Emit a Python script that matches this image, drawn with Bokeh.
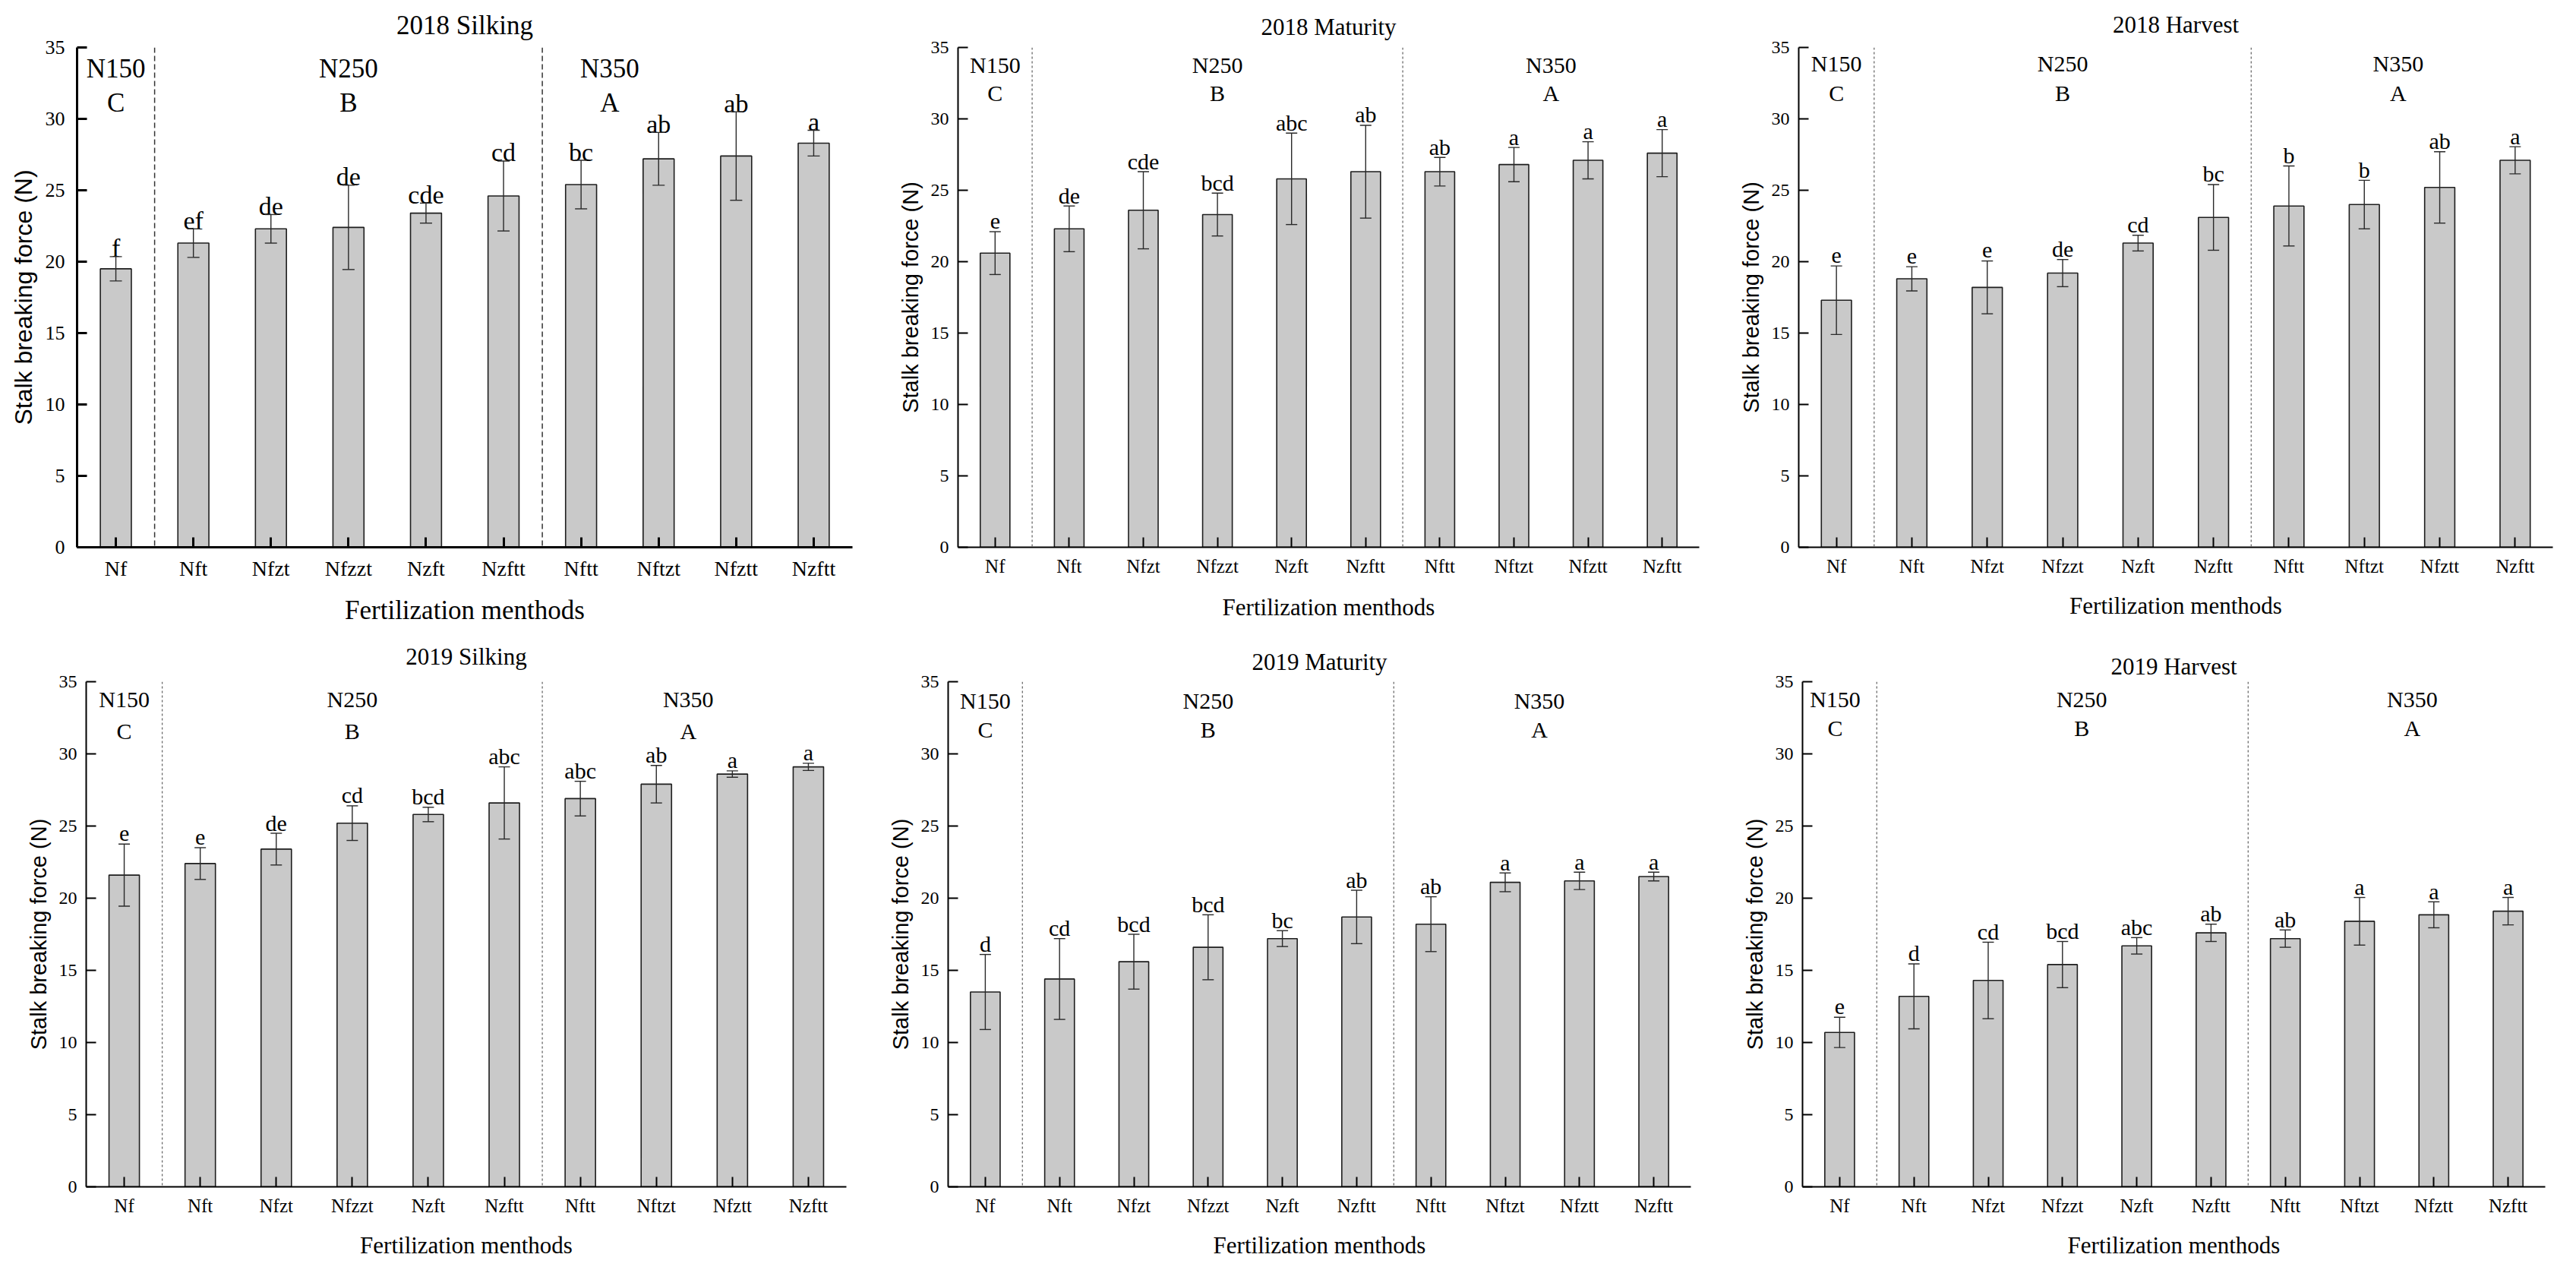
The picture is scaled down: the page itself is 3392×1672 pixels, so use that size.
from bokeh.plotting import figure
from bokeh.models import Range1d, FixedTicker, Span, Whisker, TeeHead, ColumnDataSource
from bokeh.layouts import column, row
from bokeh.embed import file_html
from bokeh.resources import INLINE
from bokeh.core.properties import value

# ---------------- data ----------------
categories = ["Nf", "Nft", "Nfzt", "Nfzzt", "Nzft", "Nzftt", "Nftt", "Nftzt", "Nfztt", "Nzftt"]
titles = ["2018 Silking", "2018 Maturity", "2018 Harvest",
          "2019 Silking", "2019 Maturity", "2019 Harvest"]
group_names = ["N150", "N250", "N350"]
group_letters = ["C", "B", "A"]
y_ticks = [0, 5, 10, 15, 20, 25, 30, 35]
x_title = "Fertilization menthods"
y_title = "Stalk breaking force (N)"

means_2018_silking = [19.5, 21.3, 22.3, 22.4, 23.4, 24.6, 25.4, 27.2, 27.4, 28.3]
sd_2018_silking = [0.85, 1.0, 1.0, 2.95, 0.7, 2.45, 1.7, 1.85, 3.1, 0.9]
letters_2018_silking = ["f", "ef", "de", "de", "cde", "cd", "bc", "ab", "ab", "a"]

means_2018_maturity = [20.6, 22.3, 23.6, 23.3, 25.8, 26.3, 26.3, 26.8, 27.1, 27.6]
sd_2018_maturity = [1.5, 1.6, 2.7, 1.5, 3.2, 3.25, 1.0, 1.2, 1.3, 1.65]
letters_2018_maturity = ["e", "de", "cde", "bcd", "abc", "ab", "ab", "a", "a", "a"]

means_2018_harvest = [17.3, 18.8, 18.2, 19.2, 21.3, 23.1, 23.9, 24.0, 25.2, 27.1]
sd_2018_harvest = [2.4, 0.85, 1.85, 0.95, 0.55, 2.3, 2.8, 1.7, 2.5, 0.95]
letters_2018_harvest = ["e", "e", "e", "de", "cd", "bc", "b", "b", "ab", "a"]

means_2019_silking = [21.6, 22.4, 23.4, 25.2, 25.8, 26.6, 26.9, 27.9, 28.6, 29.1]
sd_2019_silking = [2.15, 1.1, 1.1, 1.2, 0.5, 2.5, 1.2, 1.3, 0.22, 0.25]
letters_2019_silking = ["e", "e", "de", "cd", "bcd", "abc", "abc", "ab", "a", "a"]

means_2019_maturity = [13.5, 14.4, 15.6, 16.6, 17.2, 18.7, 18.2, 21.1, 21.2, 21.5]
sd_2019_maturity = [2.6, 2.8, 1.9, 2.25, 0.55, 1.85, 1.9, 0.65, 0.6, 0.3]
letters_2019_maturity = ["d", "cd", "bcd", "bcd", "bc", "ab", "ab", "a", "a", "a"]

means_2019_harvest = [10.7, 13.2, 14.3, 15.4, 16.7, 17.6, 17.2, 18.4, 18.85, 19.1]
sd_2019_harvest = [1.05, 2.25, 2.65, 1.6, 0.57, 0.6, 0.6, 1.65, 0.9, 0.95]
letters_2019_harvest = ["e", "d", "cd", "bcd", "abc", "ab", "ab", "a", "a", "a"]

# ---------------- styles (layout) ----------------
SERIF = "Liberation Serif"
SANS = "Liberation Sans"

# row geometry shared by the three panels of a row
ROW1 = dict(bt=62, fh=658, bb=102)
ROW2 = dict(bt=72, fh=665, bb=96)

styles = [
    dict(ROW1, fw=1021, bl=101, br=30, big=True, gx=[0, 3, 6.37], gy=(33.5, 31.1),
         tstand=20, xstand=17),
    dict(ROW1, fw=976, bl=109, br=45, big=False, gx=[0, 3, 7.5], gy=(33.8, 31.8),
         tstand=20, xstand=20),
    dict(ROW1, fw=993, bl=86, br=15, big=False, gx=[0, 3, 7.45], gy=(33.9, 31.8),
         tstand=25, xstand=18),
    dict(ROW2, fw=1001, bl=113, br=38, big=False, gx=[0, 3, 7.42], gy=(33.8, 31.6),
         tstand=31, xstand=18),
    dict(ROW2, fw=978, bl=96, br=56, big=False, gx=[0, 3, 7.46], gy=(33.7, 31.7),
         tstand=17, xstand=18),
    dict(ROW2, fw=978, bl=91, br=25, big=False, gx=[-0.06, 3.26, 7.71], gy=(33.8, 31.8),
         tstand=6, xstand=18),
]


def make_panel(title, means, sds, letters, st):
    big = st["big"]
    p = figure(frame_width=st["fw"], frame_height=st["fh"],
               min_border_left=st["bl"], min_border_top=st["bt"],
               min_border_right=st["br"], min_border_bottom=st["bb"],
               x_range=Range1d(-0.5, 9.5), y_range=Range1d(0, 35),
               output_backend="svg", toolbar_location=None, title=title)
    p.outline_line_color = None
    p.grid.visible = False
    p.background_fill_color = "white"
    p.border_fill_color = "white"

    p.title.text_font = SERIF
    p.title.text_font_style = "normal"
    p.title.text_font_size = "35px" if big else "31px"
    p.title.align = "center"
    p.title.standoff = st["tstand"]
    p.title.text_color = "black"

    aw = 3 if big else 2
    for ax in (p.xaxis[0], p.yaxis[0]):
        ax.axis_line_width = aw
        ax.axis_line_color = "black"
        ax.major_tick_line_width = aw
        ax.major_tick_line_color = "black"
        ax.major_tick_in = 13
        ax.major_tick_out = 0
        ax.minor_tick_line_color = None
        ax.major_label_text_font = SERIF
        ax.major_label_text_color = "black"
        ax.axis_label_text_font_style = "normal"
        ax.axis_label_text_color = "black"

    xa = p.xaxis[0]
    xa.ticker = FixedTicker(ticks=list(range(len(categories))))
    xa.major_label_overrides = {i: c for i, c in enumerate(categories)}
    xa.major_label_text_font_size = "28px" if big else "25px"
    xa.major_label_standoff = 12 if big else 11
    xa.axis_label = x_title
    xa.axis_label_text_font = SERIF
    xa.axis_label_text_font_size = "35px" if big else "31px"
    xa.axis_label_standoff = st["xstand"]

    ya = p.yaxis[0]
    ya.ticker = FixedTicker(ticks=y_ticks)
    ya.major_label_text_font_size = "26px" if big else "24px"
    ya.major_label_standoff = 16 if big else 12
    ya.axis_label = y_title
    ya.axis_label_text_font = SANS
    ya.axis_label_text_font_size = "32px" if big else "29px"
    ya.axis_label_standoff = 8

    x = list(range(len(categories)))
    upper = [m + s for m, s in zip(means, sds)]
    lower = [m - s for m, s in zip(means, sds)]
    src = ColumnDataSource(dict(x=x, top=means, upper=upper, lower=lower, letter=letters))

    p.vbar(x="x", top="top", bottom=0, width=0.4, source=src,
           fill_color="#c9c9c9", line_color="#1e1e1e", line_width=1.6)

    ecol = "#2a2a2a"
    hw = 16 if big else 15
    wh = Whisker(base="x", upper="upper", lower="lower", source=src,
                 line_color=ecol, line_width=1.4,
                 upper_head=TeeHead(size=hw, line_color=ecol, line_width=1.4),
                 lower_head=TeeHead(size=hw, line_color=ecol, line_width=1.4),
                 level="annotation")
    p.add_layout(wh)

    p.text(x="x", y="upper", text="letter", source=src,
           text_font=value(SERIF), text_font_size="34px" if big else "30px",
           text_align="center", text_baseline="alphabetic",
           y_offset=-11 if big else -14, text_color="black")

    for loc in (0.5, 5.5):
        if big:
            sp = Span(location=loc, dimension="height", line_color="#333333",
                      line_width=1.5, line_dash="7 4")
        else:
            sp = Span(location=loc, dimension="height", line_color="#6a6a6a",
                      line_width=1.3, line_dash="3 3")
        p.add_layout(sp)

    gsize = "35px" if big else "30px"
    gsrc = ColumnDataSource(dict(x=st["gx"], y1=[st["gy"][0]] * 3, y2=[st["gy"][1]] * 3,
                                 n=group_names, l=group_letters))
    p.text(x="x", y="y1", text="n", source=gsrc, text_font=value(SERIF),
           text_font_size=gsize, text_align="center", text_baseline="middle",
           text_color="black")
    p.text(x="x", y="y2", text="l", source=gsrc, text_font=value(SERIF),
           text_font_size=gsize, text_align="center", text_baseline="middle",
           text_color="black")
    return p


panels_data = [
    (means_2018_silking, sd_2018_silking, letters_2018_silking),
    (means_2018_maturity, sd_2018_maturity, letters_2018_maturity),
    (means_2018_harvest, sd_2018_harvest, letters_2018_harvest),
    (means_2019_silking, sd_2019_silking, letters_2019_silking),
    (means_2019_maturity, sd_2019_maturity, letters_2019_maturity),
    (means_2019_harvest, sd_2019_harvest, letters_2019_harvest),
]

figs = [make_panel(t, m, s, l, st) for t, (m, s, l), st in zip(titles, panels_data, styles)]

layout = column(row(figs[0], figs[1], figs[2]), row(figs[3], figs[4], figs[5]))

open("out.html", "w").write(file_html(layout, INLINE))
